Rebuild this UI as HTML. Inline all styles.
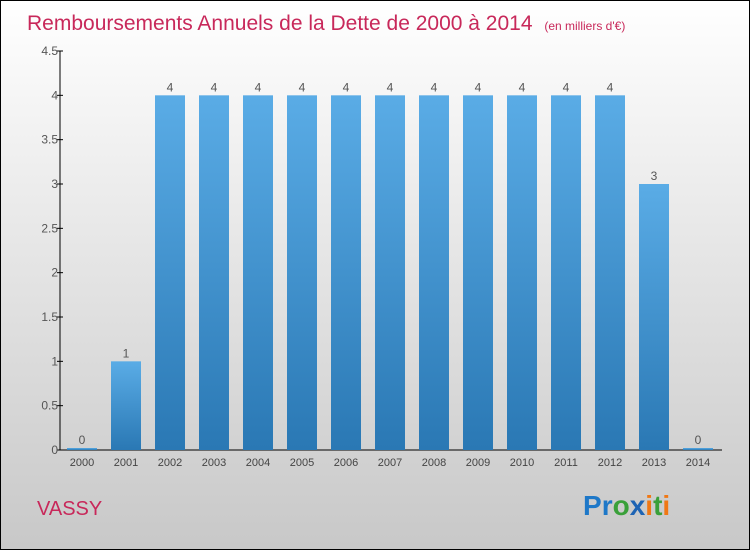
<!DOCTYPE html>
<html><head><meta charset="utf-8"><style>
body{margin:0;width:750px;height:550px;overflow:hidden;font-family:"Liberation Sans",sans-serif}
</style></head><body>
<svg width="750" height="550" xmlns="http://www.w3.org/2000/svg">
<defs>
<linearGradient id="bg" x1="0" y1="0" x2="0" y2="1"><stop offset="0" stop-color="#ffffff"/><stop offset="1" stop-color="#c8c8c8"/></linearGradient>
<linearGradient id="bar" x1="0" y1="0" x2="0" y2="1"><stop offset="0" stop-color="#5aace6"/><stop offset="1" stop-color="#2a78b4"/></linearGradient>
</defs>
<rect x="0.5" y="0.5" width="749" height="549" fill="url(#bg)" stroke="#000"/>
<text x="27" y="30" font-size="21" fill="#c8285a">Remboursements Annuels de la Dette de 2000 à 2014 <tspan font-size="12" dx="6">(en milliers d'€)</tspan></text>
<g id="axes"></g>
<g id="bars"></g>
<text x="37" y="515" font-size="20" fill="#c8285a">VASSY</text>
<text x="583" y="515" font-size="28" font-weight="bold"><tspan fill="#1e78c8">P</tspan><tspan fill="#1e78c8">r</tspan><tspan fill="#3aa03a">o</tspan><tspan fill="#1e64b4">x</tspan><tspan fill="#f07814">i</tspan><tspan fill="#3aa03a">t</tspan><tspan fill="#f07814">i</tspan></text>
</svg>
<script>
const years=["2000","2001","2002","2003","2004","2005","2006","2007","2008","2009","2010","2011","2012","2013","2014"];
const values=[0,1,4,4,4,4,4,4,4,4,4,4,4,3,0];
const yTicks=[0,0.5,1,1.5,2,2.5,3,3.5,4,4.5];
const NS="http://www.w3.org/2000/svg";
const x0=60,xEnd=722,yBase=450,yTop=51,yMax=4.5;
const step=44,firstC=82,bw=30;
const y=v=>yBase-(v/yMax)*(yBase-yTop);
const xc=i=>firstC+i*step;
function mk(tag,attrs,parent){const e=document.createElementNS(NS,tag);for(const k in attrs)e.setAttribute(k,attrs[k]);parent.appendChild(e);return e;}
const ax=document.getElementById('axes'),bg=document.getElementById('bars');
let l=mk('line',{x1:60,y1:yBase,x2:xEnd,y2:yBase,stroke:'#000'},ax);


l=mk('line',{x1:60,y1:yTop,x2:60,y2:yBase,stroke:'#000'},ax);


yTicks.forEach(t=>{
  const tk=mk('line',{x1:57,x2:63,y1:y(t),y2:y(t),stroke:'#000'},ax);
  
  
  const tx=mk('text',{x:58,y:y(t)+4,'font-size':12,fill:'#555','text-anchor':'end'},ax);
  tx.textContent=String(t);
  
  
});
years.forEach((yr,i)=>{
  const v=values[i];
  const top=v>0?y(v):yBase-2;
  const r=mk('rect',{x:xc(i)-bw/2,y:top,width:bw,height:yBase-top,fill:'url(#bar)'},bg);
  
  
  const vl=mk('text',{x:xc(i),y:top-4,'font-size':12,fill:'#555','text-anchor':'middle'},bg);
  vl.textContent=String(v);
  
  
  const xl=mk('text',{x:xc(i),y:466,'font-size':11,fill:'#444','text-anchor':'middle'},ax);
  xl.textContent=yr;
  
  
});
</script>
</body></html>
